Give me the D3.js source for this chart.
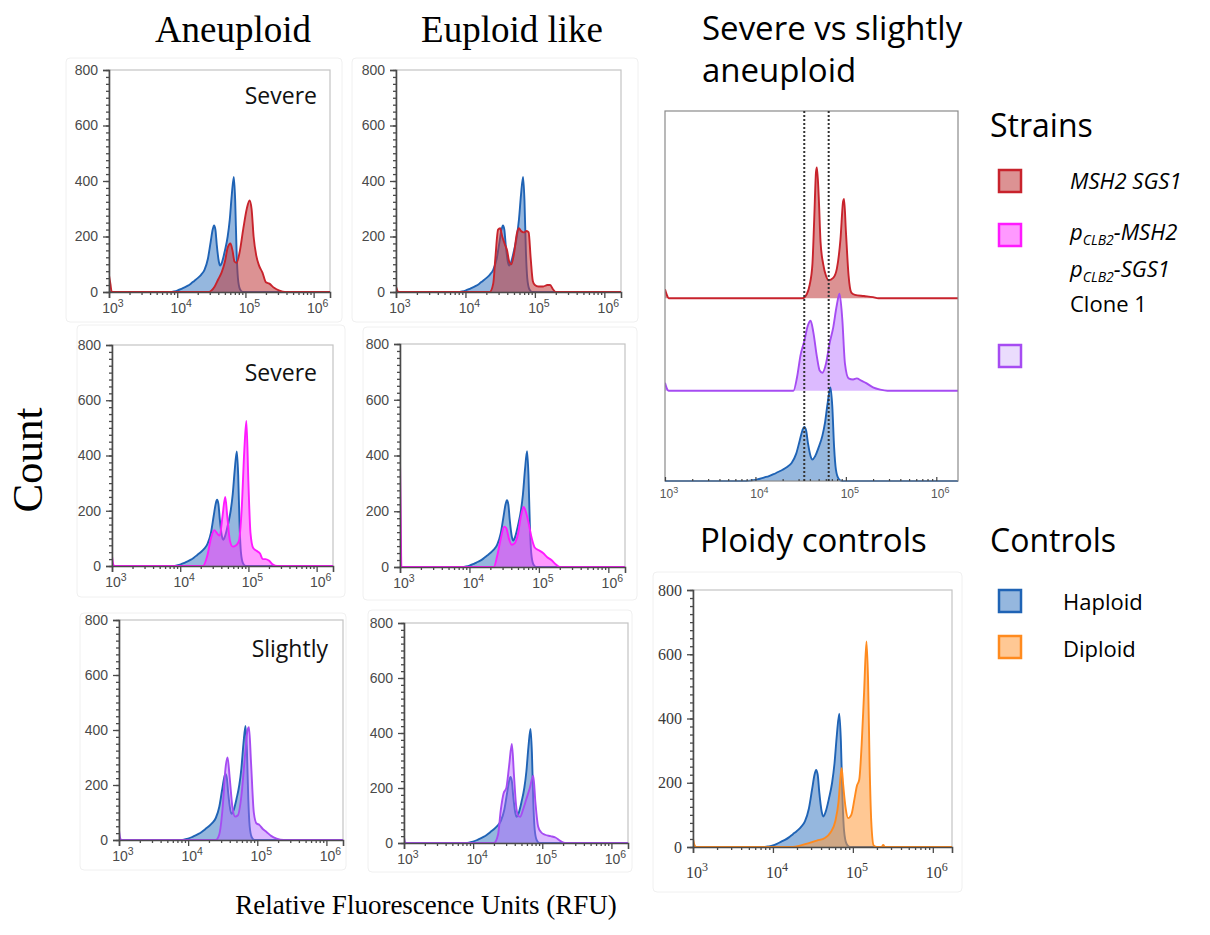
<!DOCTYPE html>
<html>
<head>
<meta charset="utf-8">
<script src="https://cdnjs.cloudflare.com/ajax/libs/d3/7.8.5/d3.min.js"></script>
<style>
  body { margin: 0; background: #fff; }
</style>
</head>
<body>
<svg id="fig" width="1210" height="935"></svg>
<script>
// Global variables
const svg = d3.select('#fig');
const sans = '"Open Sans", "Noto Sans", sans-serif';
const serif = '"Liberation Serif", "DejaVu Serif", serif';
const narrow = '"Liberation Sans Narrow", "Liberation Sans", sans-serif';

// Axis values
const logMin = 3;
const logMax = 6.24;
const xMajorExp = [3, 4, 5, 6];
const yMajor = [0, 200, 400, 600, 800];
const guideLines = [4.54, 4.81];   // dotted lines, log10 RFU

// Histograms: [log10 RFU, count]
const haploid = [[3.0,0],[3.9,0],[3.95,2],[4.0,5],[4.05,10],[4.1,16],[4.15,22],[4.2,30],[4.25,40],[4.3,50],
  [4.35,62],[4.4,80],[4.45,120],[4.49,180],[4.52,225],[4.54,240],[4.56,225],[4.58,170],[4.61,110],[4.63,95],
  [4.66,110],[4.7,150],[4.74,200],[4.77,260],[4.8,350],[4.83,415],[4.85,330],[4.87,150],[4.89,50],[4.92,10],[4.96,0]];

const severeRed = [[3.0,60],[3.02,30],[3.04,0],[4.45,0],[4.5,5],[4.55,20],[4.6,45],[4.65,70],[4.7,110],[4.74,160],
  [4.78,175],[4.81,150],[4.84,110],[4.87,105],[4.92,150],[4.97,230],[5.02,300],[5.06,330],[5.09,300],[5.12,200],
  [5.16,130],[5.2,95],[5.25,70],[5.3,35],[5.35,30],[5.42,15],[5.5,5],[5.58,0]];

const euploidRed = [[3.0,20],[3.02,5],[3.04,0],[4.35,0],[4.4,30],[4.43,120],[4.47,225],[4.5,230],[4.53,200],[4.57,170],
  [4.6,150],[4.63,110],[4.66,100],[4.7,140],[4.74,210],[4.77,230],[4.8,220],[4.84,215],[4.88,220],[4.91,215],
  [4.94,120],[4.97,40],[5.0,25],[5.05,20],[5.12,20],[5.18,25],[5.22,25],[5.26,10],[5.3,0]];

const severeMagenta = [[3.0,35],[3.02,5],[3.04,0],[4.33,0],[4.4,40],[4.45,100],[4.5,130],[4.55,115],[4.58,110],[4.62,180],
  [4.66,250],[4.69,180],[4.73,90],[4.77,70],[4.82,75],[4.86,90],[4.9,200],[4.94,420],[4.97,525],[5.0,300],
  [5.03,120],[5.07,65],[5.12,55],[5.17,45],[5.21,25],[5.25,25],[5.3,20],[5.36,5],[5.42,0]];

const euploidMagenta = [[3.0,380],[3.01,200],[3.02,0],[4.35,0],[4.4,40],[4.45,100],[4.5,145],[4.53,140],[4.57,100],[4.61,80],
  [4.65,85],[4.7,120],[4.74,180],[4.78,215],[4.81,200],[4.85,160],[4.89,110],[4.94,70],[5.0,60],[5.06,50],
  [5.12,35],[5.18,25],[5.24,10],[5.3,0]];

const slightPurple = [[3.0,35],[3.02,5],[3.04,0],[4.4,0],[4.45,20],[4.5,120],[4.54,260],[4.57,300],[4.6,230],[4.64,120],
  [4.68,85],[4.72,90],[4.77,160],[4.82,300],[4.86,400],[4.88,410],[4.91,280],[4.95,100],[4.99,60],[5.03,55],
  [5.08,40],[5.13,30],[5.2,15],[5.28,5],[5.38,0]];

const euploidPurple = [[3.0,20],[3.02,0],[4.3,0],[4.36,30],[4.4,120],[4.44,180],[4.48,200],[4.52,280],[4.56,360],[4.59,250],
  [4.62,140],[4.65,100],[4.68,95],[4.72,120],[4.77,160],[4.82,200],[4.87,245],[4.9,150],[4.94,60],[4.98,40],
  [5.04,30],[5.12,25],[5.19,20],[5.26,8],[5.33,0]];

const stackRed = [[3.0,40],[3.02,15],[3.04,0],[4.52,0],[4.57,20],[4.6,60],[4.63,150],[4.65,350],[4.67,560],[4.68,580],
  [4.7,450],[4.72,250],[4.75,150],[4.78,100],[4.81,80],[4.86,90],[4.9,130],[4.94,260],[4.97,430],[4.98,440],
  [5.0,300],[5.03,100],[5.06,25],[5.1,15],[5.2,10],[5.3,5],[5.36,0]];

const stackPurple = [[3.0,35],[3.02,10],[3.04,0],[4.42,0],[4.46,60],[4.5,160],[4.54,220],[4.58,290],[4.61,310],[4.64,260],
  [4.68,150],[4.71,90],[4.74,80],[4.78,120],[4.82,210],[4.86,280],[4.9,380],[4.93,430],[4.96,320],[4.99,120],
  [5.03,55],[5.08,50],[5.12,55],[5.17,45],[5.22,35],[5.3,15],[5.38,5],[5.46,0]];

const diploid = [[3.0,25],[3.02,5],[3.04,0],[4.25,0],[4.35,5],[4.45,12],[4.55,20],[4.65,28],[4.72,45],[4.78,80],
  [4.82,140],[4.85,230],[4.86,245],[4.88,190],[4.91,120],[4.94,90],[4.98,100],[5.02,150],[5.05,190],[5.08,210],
  [5.11,320],[5.14,480],[5.17,640],[5.19,520],[5.21,250],[5.23,80],[5.26,5],[5.3,0],[5.36,0],[5.38,6],[5.4,0]];

// Stack offsets (counts) for the severe vs slightly panel
const stackOffsets = [810, 400, 0];

// Legend entries
const controlLabels = ['Haploid', 'Diploid'];

const colors = {
    blue:    { stroke: '#1f63b5', fill: '#2b6fbe', op: 0.5 },
    red:     { stroke: '#c8232c', fill: '#c0393b', op: 0.55 },
    magenta: { stroke: '#ff1aff', fill: '#ff33ff', op: 0.5 },
    purple:  { stroke: '#a64cf2', fill: '#b266ff', op: 0.45 },
    orange:  { stroke: '#ff8a1e', fill: '#ff9a3c', op: 0.55 }
};

// Panel layout
const panels = [
    { box: [109, 70, 330, 292], outer: [66, 58, 342, 322], series: [[haploid,'blue'], [severeRed,'red']], note: ['Severe', 317, 104] },
    { box: [396, 70, 621, 292], outer: [352, 58, 638, 322], series: [[haploid,'blue'], [euploidRed,'red']] },
    { box: [112, 345, 333, 566], outer: [77, 325, 345, 597], series: [[haploid,'blue'], [severeMagenta,'magenta']], note: ['Severe', 317, 381] },
    { box: [400, 344, 625, 567], outer: [363, 327, 637, 600], series: [[haploid,'blue'], [euploidMagenta,'magenta']] },
    { box: [119, 620, 343, 840], outer: [80, 613, 346, 870], series: [[haploid,'blue'], [slightPurple,'purple']], note: ['Slightly', 328, 657] },
    { box: [404, 623, 628, 843], outer: [368, 610, 632, 872], series: [[haploid,'blue'], [euploidPurple,'purple']] },
    { box: [693, 590, 952, 847], outer: [653, 572, 962, 892], series: [[haploid,'blue'], [diploid,'orange']], serifTicks: true }
];

function minorTicks() {
    let t = [];
    for (let e = logMin; e < 7; e++) {
        for (let m = 2; m < 10; m++) {
            let v = m * Math.pow(10, e);
            if (Math.log10(v) <= logMax) t.push(v);
        }
    }
    return t;
}

function xLabels(g, x, y0, font, size, color) {
    xMajorExp.forEach(e => {
        let t = g.append('text')
            .attr('x', x(Math.pow(10, e)) + 4)
            .attr('y', y0)
            .attr('text-anchor', 'middle')
            .style('font-family', font)
            .style('font-size', size + 'px')
            .attr('fill', color);
        t.append('tspan').text('10');
        t.append('tspan').attr('dy', -size * 0.45).style('font-size', (size * 0.75) + 'px').text(e);
    });
}

// Drawing one histogram panel
function histPanel(p, i) {
    let [l, t, r, b] = p.box;
    let g = svg.append('g');

    g.append('rect')
        .attr('x', p.outer[0]).attr('y', p.outer[1])
        .attr('width', p.outer[2] - p.outer[0]).attr('height', p.outer[3] - p.outer[1])
        .attr('rx', 4).attr('fill', 'none').attr('stroke', '#f0f0f0');

    let x = d3.scaleLog().domain([Math.pow(10, logMin), Math.pow(10, logMax)]).range([l, r]);
    let y = d3.scaleLinear().domain([0, 800]).range([b, t]);

    g.append('clipPath').attr('id', 'clip' + i)
        .append('rect').attr('x', l).attr('y', t - 2).attr('width', r - l).attr('height', b - t + 3);

    g.append('rect')
        .attr('x', l).attr('y', t).attr('width', r - l).attr('height', b - t)
        .attr('fill', 'none').attr('stroke', '#c4c4c4').attr('stroke-width', 1.2);

    let area = d3.area()
        .x(d => x(Math.pow(10, d[0])))
        .y0(y(0))
        .y1(d => y(d[1]))
        .curve(d3.curveMonotoneX);
    let line = area.lineY1();

    let plot = g.append('g').attr('clip-path', `url(#clip${i})`);
    p.series.forEach(([s, c]) => {
        let data = s.concat([[logMax, 0]]);
        let col = colors[c];
        plot.append('path').attr('d', area(data))
            .attr('fill', col.fill).attr('fill-opacity', col.op);
        plot.append('path').attr('d', line(data))
            .attr('fill', 'none').attr('stroke', col.stroke).attr('stroke-width', 1.9)
            .attr('stroke-linejoin', 'round');
    });

    let tickFont = p.serifTicks ? serif : narrow;
    let tickSize = p.serifTicks ? 16 : 14;
    let tickColor = p.serifTicks ? '#3a3a3a' : '#4a4a4a';

    // y axis
    let yAxis = g.append('g').attr('transform', `translate(${l},0)`)
        .call(d3.axisLeft(y).tickValues(yMajor).tickSize(6).tickPadding(5));
    g.append('g').attr('transform', `translate(${l},0)`)
        .call(d3.axisLeft(y).tickValues(d3.range(0, 801, 25)).tickSize(3).tickFormat(''))
        .call(a => a.select('.domain').remove());
    yAxis.selectAll('text')
        .style('font-family', tickFont).style('font-size', tickSize + 'px').attr('fill', tickColor);

    // x axis
    g.append('g').attr('transform', `translate(0,${b})`)
        .call(d3.axisBottom(x).tickValues(xMajorExp.map(e => Math.pow(10, e))).tickSize(6).tickFormat(''));
    g.append('g').attr('transform', `translate(0,${b})`)
        .call(d3.axisBottom(x).tickValues(minorTicks()).tickSize(3).tickFormat(''))
        .call(a => a.select('.domain').remove());

    g.selectAll('.domain, .tick line').attr('stroke', '#4a4a4a').attr('stroke-width', 1.3);
    g.selectAll('.domain').attr('stroke-width', 1.6);

    xLabels(g, x, b + (p.serifTicks ? 31 : 21), tickFont, tickSize, tickColor);

    if (p.note) {
        g.append('text')
            .attr('x', p.note[1]).attr('y', p.note[2])
            .attr('text-anchor', 'end')
            .style('font-family', sans).style('font-size', '23px')
            .attr('fill', '#111')
            .text(p.note[0]);
    }
}

// Drawing the stacked severe vs slightly panel
function stackPanel() {
    let [l, t, r, b] = [665, 111, 958, 481];
    let g = svg.append('g');
    let x = d3.scaleLog().domain([Math.pow(10, logMin), Math.pow(10, logMax)]).range([l, r]);
    let y = d3.scaleLinear().domain([0, 1640]).range([b, t]);

    g.append('clipPath').attr('id', 'clipStack')
        .append('rect').attr('x', l).attr('y', t).attr('width', r - l).attr('height', b - t + 2);

    let plot = g.append('g').attr('clip-path', 'url(#clipStack)');
    [[stackRed, 'red'], [stackPurple, 'purple'], [haploid, 'blue']].forEach(([s, c], k) => {
        let off = stackOffsets[k];
        let data = s.concat([[logMax, 0]]);
        let area = d3.area()
            .x(d => x(Math.pow(10, d[0])))
            .y0(y(off))
            .y1(d => y(off + d[1]))
            .curve(d3.curveMonotoneX);
        let col = colors[c];
        plot.append('path').attr('d', area(data))
            .attr('fill', col.fill).attr('fill-opacity', col.op);
        plot.append('path').attr('d', area.lineY1()(data))
            .attr('fill', 'none').attr('stroke', col.stroke).attr('stroke-width', 1.9);
    });

    g.append('rect')
        .attr('x', l).attr('y', t).attr('width', r - l).attr('height', b - t)
        .attr('fill', 'none').attr('stroke', '#8a8a8a').attr('stroke-width', 1.2);

    g.append('g').attr('transform', `translate(0,${b})`)
        .call(d3.axisTop(x).tickValues(xMajorExp.map(e => Math.pow(10, e))).tickSize(4).tickFormat(''))
        .call(a => a.select('.domain').remove());
    g.append('g').attr('transform', `translate(0,${b})`)
        .call(d3.axisTop(x).tickValues(minorTicks()).tickSize(2).tickFormat(''))
        .call(a => a.select('.domain').remove());
    g.selectAll('.tick line').attr('stroke', '#444').attr('stroke-width', 1.2);

    g.selectAll('.guide')
        .data(guideLines).enter()
        .append('line')
        .attr('x1', d => x(Math.pow(10, d))).attr('x2', d => x(Math.pow(10, d)))
        .attr('y1', t).attr('y2', b)
        .attr('stroke', '#333').attr('stroke-width', 2).attr('stroke-dasharray', '2,2');

    xLabels(g, x, b + 17, narrow, 12, '#555');
}

panels.forEach(histPanel);
stackPanel();

// Titles
function label(txt, x, y, font, size, anchor, rot) {
    let t = svg.append('text')
        .attr('x', x).attr('y', y)
        .attr('text-anchor', anchor || 'start')
        .style('font-family', font).style('font-size', size + 'px')
        .attr('fill', '#000')
        .text(txt);
    if (rot) t.attr('transform', `rotate(${rot},${x},${y})`);
    return t;
}

label('Aneuploid', 233, 42, serif, 37, 'middle');
label('Euploid like', 512, 42, serif, 37, 'middle');
label('Severe vs slightly', 702, 40, sans, 33);
label('aneuploid', 702, 82, sans, 33);
label('Ploidy controls', 700, 552, sans, 33);
label('Count', 42, 460, serif, 43, 'middle', -90);
label('Relative Fluorescence Units (RFU)', 426, 914, serif, 27, 'middle');

// Legends
label('Strains', 990, 137, sans, 32);
label('Controls', 990, 552, sans, 32);

function swatch(c, y0) {
    svg.append('rect')
        .attr('x', 999).attr('y', y0).attr('width', 22).attr('height', 22)
        .attr('fill', colors[c].fill).attr('fill-opacity', colors[c].op)
        .attr('stroke', colors[c].stroke).attr('stroke-width', 2.5);
}

swatch('red', 170);
swatch('magenta', 224);
svg.append('rect')
    .attr('x', 999).attr('y', 345).attr('width', 22).attr('height', 22)
    .attr('fill', '#eadcfd').attr('stroke', colors.purple.stroke).attr('stroke-width', 2.5);

label('MSH2 SGS1', 1070, 189, sans, 22).style('font-style', 'italic');

function pLine(gene, y0) {
    let t = svg.append('text').attr('x', 1070).attr('y', y0)
        .style('font-family', sans).style('font-size', '22px').style('font-style', 'italic');
    t.append('tspan').text('p');
    t.append('tspan').attr('dy', 5).style('font-size', '14px').text('CLB2');
    t.append('tspan').attr('dy', -5).text('-' + gene);
}
pLine('MSH2', 240);
pLine('SGS1', 277);
label('Clone 1', 1070, 312, sans, 22);

swatch('blue', 590);
swatch('orange', 636);
controlLabels.forEach((txt, k) => label(txt, 1063, 610 + k * 47, sans, 22));
</script>
</body>
</html>
